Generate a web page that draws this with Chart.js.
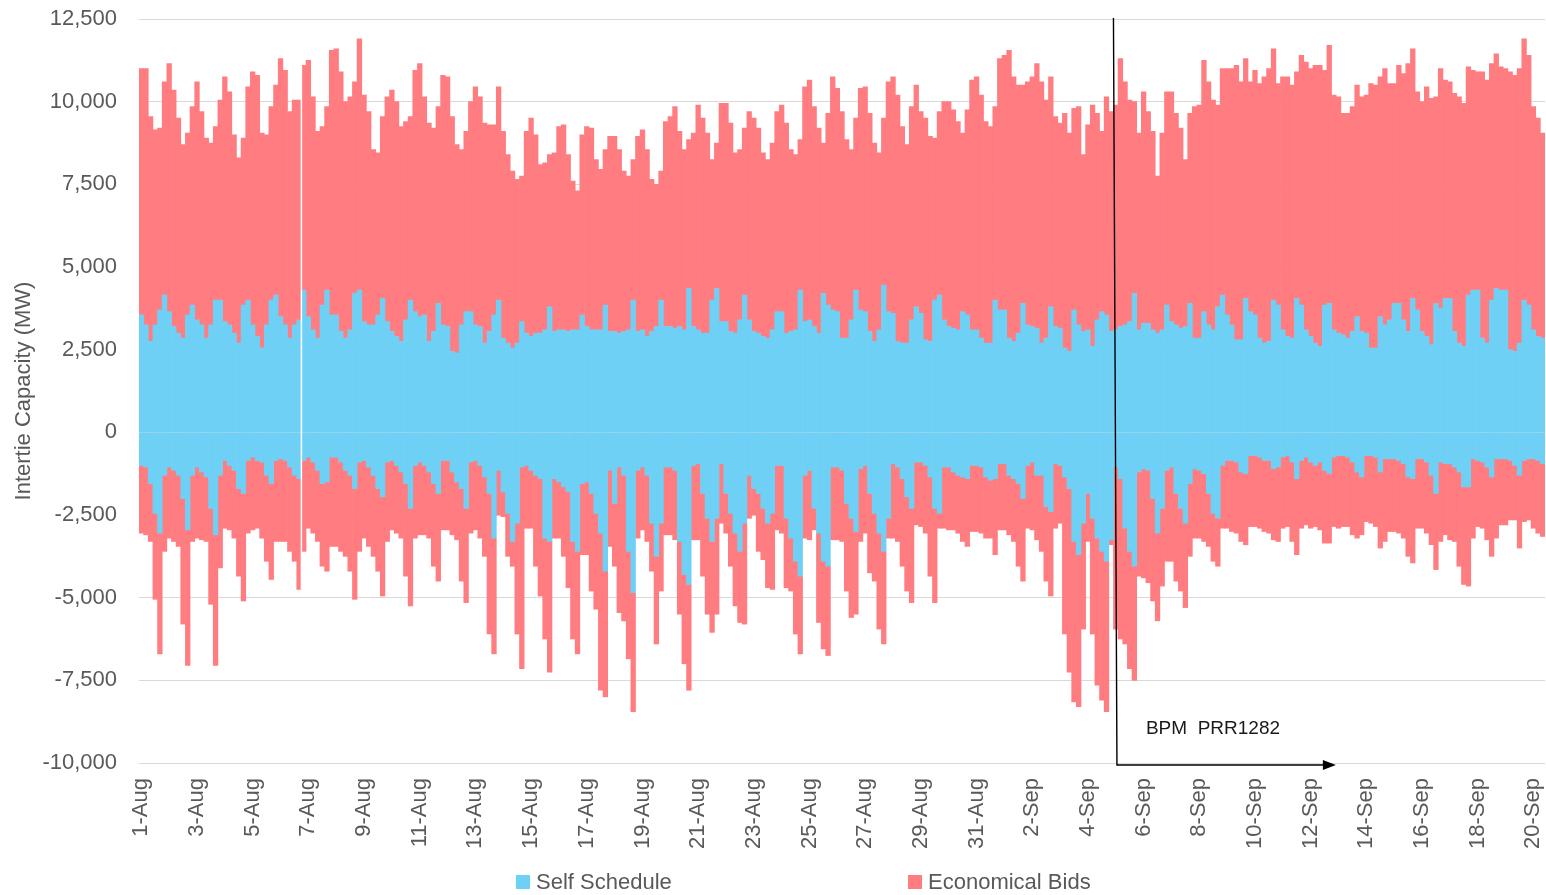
<!DOCTYPE html>
<html>
<head>
<meta charset="utf-8">
<title>Intertie Capacity</title>
<script src="https://cdn.jsdelivr.net/npm/chart.js@4.4.1/dist/chart.umd.min.js"></script>
<style>
  html, body { margin: 0; padding: 0; background: #ffffff; }
  #wrap { position: relative; width: 1546px; height: 895px; overflow: hidden; }
  #chart { position: absolute; left: 0; top: 0; }
  .legend-item {
    position: absolute; top: 869px; height: 26px; line-height: 26px;
    display: flex; align-items: center; white-space: nowrap;
    font-family: "Liberation Sans", Arial, sans-serif; font-size: 22px; color: #595959;
  }
  .legend-item i { display: inline-block; width: 14px; height: 14px; margin-right: 6px; }
</style>
</head>
<body>
<div id="wrap">
  <canvas id="chart" width="1546" height="895"></canvas>
</div>
<script>
// Day tick labels (one label every second day is shown on the axis)
const dayLabels = [
  '1-Aug','2-Aug','3-Aug','4-Aug','5-Aug','6-Aug','7-Aug','8-Aug','9-Aug','10-Aug',
  '11-Aug','12-Aug','13-Aug','14-Aug','15-Aug','16-Aug','17-Aug','18-Aug','19-Aug','20-Aug',
  '21-Aug','22-Aug','23-Aug','24-Aug','25-Aug','26-Aug','27-Aug','28-Aug','29-Aug','30-Aug',
  '31-Aug','1-Sep','2-Sep','3-Sep','4-Sep','5-Sep','6-Sep','7-Sep','8-Sep','9-Sep',
  '10-Sep','11-Sep','12-Sep','13-Sep','14-Sep','15-Sep','16-Sep','17-Sep','18-Sep','19-Sep','20-Sep'
];

// 4-hour blocks per day
const blockHours = ['00:00', '04:00', '08:00', '12:00', '16:00', '20:00'];

// Import side: self-scheduled MW (top of blue)
const importSelfSchedule = [
  3550, 3250, 2750, 3250, 3700, 4150,
  3650, 3200, 3000, 2850, 3550, 3850,
  3400, 3250, 2850, 3250, 4000, 4000,
  3350, 3250, 3000, 2700, 3850, 4000,
  3250, 2900, 2550, 3250, 4000, 4150,
  3500, 3250, 2850, 3250, 3400, 4300,
  3500, 3100, 2850, 3850, 4300, 3550,
  3550, 3050, 2850, 3100, 4200, 4300,
  3350, 3250, 3250, 3550, 4050, 3350,
  3050, 2900, 2750, 3400, 4000, 3650,
  3500, 3550, 2750, 3050, 3900, 3250,
  3200, 2450, 2400, 3250, 3650, 3650,
  3250, 3200, 2700, 3050, 3550, 4000,
  2850, 2700, 2550, 2700, 3350, 3000,
  2900, 3000, 3000, 3100, 3800, 3050,
  3100, 3100, 3050, 3100, 3100, 3550,
  3200, 3100, 3100, 3100, 3850, 3050,
  3050, 3000, 3050, 3100, 4000, 3050,
  3100, 2900, 3050, 3200, 4000, 3200,
  3200, 3150, 3200, 3100, 4350, 3200,
  3100, 3000, 3000, 4000, 4350, 3350,
  3350, 3050, 3000, 3400, 4150, 3400,
  3050, 3000, 2900, 2850, 3100, 3650,
  3650, 3000, 3050, 3100, 4300, 3350,
  3400, 3200, 3000, 4200, 3850, 3700,
  3650, 2850, 2850, 3400, 4300, 3700,
  3650, 3050, 2750, 3100, 4450, 3650,
  3600, 2750, 2700, 2700, 3400, 3800,
  3600, 2800, 2750, 4000, 4150, 3400,
  3200, 3150, 3100, 3650, 3550, 3100,
  3100, 2850, 2700, 2700, 4000, 3700,
  3700, 2850, 2750, 3000, 3900, 3250,
  3200, 3150, 2700, 2850, 3800, 3200,
  3150, 2550, 2450, 3700, 3250, 3050,
  3100, 2600, 3400, 3650, 3550, 3050,
  3100, 3200, 3250, 3350, 4200, 3100,
  3300, 3300, 3100, 3000, 3100, 3850,
  3350, 3250, 3150, 3200, 3900, 2850,
  2850, 3650, 3250, 3100, 3800, 4150,
  3550, 3250, 2800, 2800, 4050, 3650,
  3550, 2850, 2700, 2750, 4000, 3850,
  3100, 2900, 2850, 4050, 3850, 3100,
  2900, 2700, 2600, 3850, 3900, 3100,
  3000, 2950, 2850, 3050, 3500, 3050,
  3000, 2550, 2550, 3500, 3250, 3400,
  3900, 3900, 3400, 3050, 4050, 3700,
  3050, 2900, 2650, 3900, 3750, 4050,
  4050, 3050, 2700, 2600, 4150, 4300,
  4300, 2850, 2700, 4000, 4350, 4300,
  4300, 2500, 2450, 2700, 4000, 3850,
  3100, 2900, 2850
];

// Import side: self schedule plus economical bids, MW (top of red)
const importTotal = [
  11000, 11000, 9550, 9150, 9200, 10600,
  11150, 10350, 9500, 8700, 9050, 9850,
  10600, 9700, 8900, 8750, 9250, 10050,
  10750, 10300, 9000, 8300, 8900, 10450,
  10900, 10800, 9050, 9000, 9850, 10500,
  11300, 10950, 9700, 10050, 10050, 11100,
  11250, 10150, 9100, 9250, 9850, 11550,
  11600, 10900, 10000, 10150, 10600, 11900,
  10200, 9700, 8550, 8450, 9550, 10150,
  10350, 10000, 9250, 9400, 9550, 10950,
  11150, 10150, 9350, 9200, 9850, 10800,
  10750, 9550, 8700, 8550, 9100, 10000,
  10450, 10150, 9350, 9300, 9300, 10450,
  9100, 8400, 7900, 7650, 7750, 9100,
  9500, 9000, 8100, 8150, 8400, 8450,
  9250, 9300, 8400, 7600, 7300, 9000,
  9250, 9200, 8250, 7950, 8550, 8950,
  8950, 8550, 7900, 7750, 8250, 8950,
  9150, 8550, 7650, 7500, 7900, 9400,
  9550, 9850, 9100, 8550, 8850, 9050,
  9900, 9500, 9050, 8250, 8750, 9950,
  9950, 9350, 8450, 8550, 9200, 9700,
  9500, 9200, 8450, 8250, 8750, 9700,
  9900, 9350, 8550, 8400, 8850, 10450,
  10650, 9850, 9200, 8750, 9650, 10750,
  10400, 9700, 8850, 8550, 9500, 10400,
  10450, 9650, 8750, 8450, 9500, 10600,
  10750, 10200, 9250, 8700, 9850, 10500,
  9700, 9500, 8950, 8900, 9700, 10000,
  10000, 9750, 9400, 9050, 9750, 10650,
  10750, 10200, 9400, 9250, 9850, 11300,
  11400, 11550, 10750, 10500, 10500, 10600,
  10750, 11150, 10600, 10050, 10750, 9550,
  9350, 9650, 9050, 9800, 9850, 8400,
  9300, 9900, 9650, 9100, 10150, 9700,
  9900, 11300, 10600, 10050, 10000, 9050,
  10300, 9700, 9100, 7750, 9050, 10300,
  10300, 9650, 9200, 8250, 9650, 9850,
  9900, 11250, 10600, 10050, 9900, 11000,
  11000, 11000, 11100, 10600, 11300, 10600,
  10950, 10550, 10750, 11000, 11600, 10550,
  10750, 10750, 10500, 10900, 11400, 11200,
  11000, 11100, 11100, 10950, 11700, 10200,
  10150, 9650, 9650, 9850, 10500, 10150,
  10200, 10550, 10500, 10750, 11000, 10550,
  10550, 11100, 10850, 11150, 11600, 10300,
  10000, 10450, 10100, 10150, 11000, 10650,
  10600, 10250, 10150, 9950, 11050, 10950,
  10900, 10900, 10650, 11150, 11450, 11050,
  11000, 10900, 10800, 11000, 11900, 11400,
  9850, 9500, 9050
];

// Export side: self-scheduled MW (bottom of blue)
const exportSelfSchedule = [
  -1000, -1050, -1550, -2450, -3050, -1300,
  -1050, -1150, -1300, -2000, -2950, -1300,
  -1050, -1200, -1350, -2300, -3100, -1300,
  -850, -1000, -1150, -1700, -1850, -850,
  -750, -850, -900, -1300, -1550, -850,
  -800, -850, -1050, -1300, -1400, -850,
  -750, -900, -1150, -1550, -1500, -750,
  -750, -900, -1150, -1300, -1700, -900,
  -850, -1050, -1300, -1700, -1950, -900,
  -850, -1000, -1200, -1550, -2300, -1000,
  -900, -1000, -1200, -1550, -1850, -850,
  -850, -1200, -1500, -1700, -2300, -900,
  -850, -1000, -1350, -1850, -3200, -1150,
  -1800, -2450, -3300, -2750, -1050, -1000,
  -1150, -1300, -1400, -3200, -3300, -1400,
  -1500, -1650, -1800, -3300, -3600, -1550,
  -1500, -1850, -2450, -3050, -4200, -1150,
  -2150, -1050, -1300, -3600, -4850, -1150,
  -1050, -1300, -2750, -3750, -2750, -1050,
  -1050, -1150, -3300, -4300, -4600, -1000,
  -950, -1850, -2600, -3300, -2600, -950,
  -1850, -2450, -3050, -3600, -2750, -1300,
  -1700, -1850, -2300, -2750, -2450, -1000,
  -1000, -2600, -3200, -3900, -4350, -1300,
  -1150, -2300, -3050, -3900, -4050, -1050,
  -1050, -1150, -2150, -2600, -3000, -1100,
  -1000, -1850, -2450, -3050, -3600, -2600,
  -950, -1050, -1400, -1950, -2300, -900,
  -900, -1000, -1350, -2300, -2450, -1050,
  -1050, -1200, -1300, -1350, -1400, -1000,
  -1000, -1050, -1350, -1450, -1400, -950,
  -950, -1300, -1400, -1550, -2000, -1000,
  -900, -1300, -1300, -2250, -2400, -950,
  -1000, -1350, -1700, -3300, -3700, -2750,
  -1850, -2600, -3200, -3600, -3900, -3250,
  -1050, -1400, -2900, -3600, -4050, -1200,
  -1100, -1150, -2000, -3050, -2300, -1150,
  -1050, -1850, -2300, -2750, -1550, -1100,
  -1150, -1250, -1850, -2450, -2600, -1000,
  -850, -850, -900, -1200, -1250, -700,
  -700, -750, -850, -850, -1100, -1050,
  -750, -700, -900, -1400, -850, -750,
  -900, -1000, -900, -1150, -1250, -750,
  -700, -700, -750, -900, -1200, -1350,
  -700, -700, -750, -1200, -800, -800,
  -800, -850, -950, -1350, -1400, -800,
  -800, -900, -1300, -1850, -900, -950,
  -950, -1050, -1200, -1650, -1650, -800,
  -850, -900, -1050, -1350, -800, -800,
  -800, -850, -1000, -1300, -850, -800,
  -800, -850, -950
];

// Export side: self schedule plus economical bids, MW (bottom of red)
const exportTotal = [
  -3050, -3100, -3300, -5050, -6700, -3600,
  -3200, -3300, -3450, -5800, -7050, -3300,
  -3200, -3250, -3300, -5200, -7050, -4100,
  -2900, -2950, -3200, -4350, -5100, -3050,
  -2950, -2900, -3200, -3900, -4450, -3300,
  -3300, -3300, -3600, -3900, -4750, -3600,
  -2900, -3050, -3300, -4050, -4200, -3450,
  -3450, -3600, -3750, -4200, -5050, -3600,
  -3200, -3450, -3750, -4200, -4950, -3300,
  -2950, -3050, -3200, -4350, -5250, -3200,
  -3100, -3100, -3200, -4050, -4500, -2950,
  -2950, -3100, -3250, -4500, -5150, -3050,
  -2950, -3200, -3750, -6100, -6700, -2500,
  -2550, -3750, -4050, -6100, -7150, -2900,
  -2900, -4050, -4950, -6250, -7250, -3200,
  -3200, -3750, -4700, -6250, -6700, -3700,
  -3700, -4800, -5350, -7800, -8000, -3450,
  -4050, -5450, -5700, -6850, -8450, -3200,
  -2950, -3300, -4200, -6400, -4800, -3100,
  -3100, -3250, -5500, -7000, -7800, -3250,
  -3250, -4350, -5500, -6050, -5500, -2750,
  -3050, -4050, -5250, -5750, -5800, -2600,
  -2500, -3600, -3850, -4700, -4750, -2950,
  -3050, -4700, -4800, -6100, -6700, -3200,
  -3250, -2950, -5750, -6550, -6750, -3250,
  -3250, -3300, -4800, -5600, -5500, -3300,
  -3050, -4250, -4500, -5950, -6400, -3200,
  -3200, -3300, -4050, -4800, -5150, -2800,
  -2850, -3050, -4350, -5150, -2900, -2900,
  -2950, -2950, -3050, -3300, -3450, -3000,
  -3000, -3050, -3200, -3200, -3700, -2950,
  -2950, -3100, -3300, -4050, -4500, -2900,
  -2950, -3250, -3600, -4500, -4950, -2900,
  -2750, -6100, -7250, -8150, -8300, -5950,
  -3300, -6100, -7650, -8100, -8450, -3400,
  -5950, -6250, -6400, -7150, -7500, -4350,
  -4400, -4550, -5100, -5700, -4650, -3900,
  -3900, -4500, -4800, -5300, -3750, -3200,
  -3200, -3300, -3450, -3900, -4050, -2900,
  -2900, -3000, -3050, -3300, -3400, -2850,
  -2850, -2900, -3000, -3050, -3250, -3300,
  -2900, -2850, -3300, -3700, -2900, -2800,
  -2900, -2850, -2950, -3350, -3350, -2850,
  -2900, -2850, -2850, -3100, -3200, -3100,
  -2700, -2750, -2850, -3500, -3300, -3000,
  -3000, -3050, -3200, -3750, -3950, -2900,
  -2900, -3050, -3400, -4150, -3300, -3100,
  -3250, -3300, -4050, -4600, -4650, -3200,
  -2850, -2900, -3250, -3750, -3200, -2800,
  -2800, -2650, -2650, -3500, -2700, -2650,
  -2900, -3050, -3150
];

// Blocks followed by a missing hour of data (drawn as a thin blank gap)
const missingAfterBlock = [34];

// One category per 4-hour block
const blocksPerDay = blockHours.length;
const categories = importTotal.map((_, i) =>
  dayLabels[Math.floor(i / blocksPerDay)] + ' ' + blockHours[i % blocksPerDay]);

// Policy change marker drawn across the plot
const policyMarker = {
  startBlock: 210,   // 5-Sep 00:00
  endBlock: 257,
  textBlock: 217,
  textValue: -8950,
  text: 'BPM  PRR1282'
};

const FONT = '"Liberation Sans", Arial, sans-serif';
const TEXT_GREY = '#595959';
const BLUE = '#6FD0F6';
const RED = '#FF7C80';

const barStyle = {
  barPercentage: 1,
  categoryPercentage: 1,
  grouped: false,
  borderWidth: 0
};

// Thin blank column where an hour of data is missing
const gapPlugin = {
  id: 'dataGaps',
  afterDatasetsDraw(chart) {
    const { ctx, scales: { x, y } } = chart;
    const half = (x.getPixelForValue(1) - x.getPixelForValue(0)) / 2;
    ctx.save();
    ctx.strokeStyle = '#ffffff';
    ctx.lineWidth = 1.5;
    missingAfterBlock.forEach((b) => {
      const px = x.getPixelForValue(b) + half;
      const top = y.getPixelForValue(Math.max(importTotal[b], importTotal[b + 1]));
      const bottom = y.getPixelForValue(Math.min(exportTotal[b], exportTotal[b + 1]));
      ctx.beginPath();
      ctx.moveTo(px, top);
      ctx.lineTo(px, bottom);
      ctx.stroke();
    });
    ctx.restore();
  }
};

const markerPlugin = {
  id: 'policyMarker',
  afterDraw(chart) {
    const { ctx, chartArea, scales: { x, y } } = chart;
    const half = (x.getPixelForValue(1) - x.getPixelForValue(0)) / 2;
    const xTop = x.getPixelForValue(policyMarker.startBlock) - half;
    const xBottom = xTop + 3.5;
    const yBase = y.getPixelForValue(-10000) + 2;
    const xEnd = x.getPixelForValue(policyMarker.endBlock);
    ctx.save();
    ctx.strokeStyle = '#000000';
    ctx.lineWidth = 1.4;
    ctx.beginPath();
    ctx.moveTo(xTop, chartArea.top - 1);
    ctx.lineTo(xBottom, yBase);
    ctx.lineTo(xEnd - 8, yBase);
    ctx.stroke();
    ctx.fillStyle = '#000000';
    ctx.beginPath();
    ctx.moveTo(xEnd + 2, yBase);
    ctx.lineTo(xEnd - 11, yBase - 5);
    ctx.lineTo(xEnd - 11, yBase + 5);
    ctx.closePath();
    ctx.fill();
    ctx.font = '19px ' + FONT;
    ctx.fillStyle = '#1a1a1a';
    ctx.textAlign = 'left';
    ctx.textBaseline = 'middle';
    ctx.fillText(policyMarker.text,
      x.getPixelForValue(policyMarker.textBlock) - half,
      y.getPixelForValue(policyMarker.textValue));
    ctx.restore();
  }
};

Chart.defaults.font.family = FONT;

const chart = new Chart(document.getElementById('chart'), {
  type: 'bar',
  data: {
    labels: categories,
    datasets: [
      Object.assign({ label: 'Self Schedule', data: importSelfSchedule, backgroundColor: BLUE }, barStyle),
      Object.assign({ label: 'Economical Bids',
        data: importSelfSchedule.map((v, i) => [v, importTotal[i]]), backgroundColor: RED }, barStyle),
      Object.assign({ label: 'Self Schedule', data: exportSelfSchedule, backgroundColor: BLUE }, barStyle),
      Object.assign({ label: 'Economical Bids',
        data: exportSelfSchedule.map((v, i) => [v, exportTotal[i]]), backgroundColor: RED }, barStyle)
    ]
  },
  options: {
    responsive: false,
    devicePixelRatio: 1,
    animation: false,
    layout: { padding: { top: 19, right: 1, bottom: 0, left: 0 } },
    plugins: {
      legend: { display: false },
      tooltip: { enabled: false }
    },
    scales: {
      x: {
        offset: true,
        grid: { display: false, drawTicks: true, tickLength: 15, tickColor: 'rgba(0,0,0,0)' },
        border: { display: false },
        ticks: {
          autoSkip: false,
          minRotation: 90,
          maxRotation: 90,
          padding: 0,
          color: TEXT_GREY,
          font: { size: 22 },
          callback: (value, index) => index % (2 * blocksPerDay) === 0 ? dayLabels[index / blocksPerDay] : null
        },
        afterFit: (scale) => {
          scale.height = 132;
          scale.paddingLeft = 0;
          scale.paddingRight = 0;
        }
      },
      y: {
        min: -10000,
        max: 12500,
        z: 1,
        grid: {
          drawTicks: true,
          tickLength: 22,
          tickColor: 'rgba(0,0,0,0)',
          lineWidth: 1,
          color: (c) => (c.tick && c.tick.value === 0) ? '#D9D9D9' : 'rgba(0,0,0,0.15)'
        },
        border: { display: false },
        ticks: {
          stepSize: 2500,
          padding: 0,
          color: TEXT_GREY,
          font: { size: 22 },
          callback: (v) => Number(v).toLocaleString('en-US')
        },
        title: {
          display: true,
          text: 'Intertie Capacity (MW)',
          color: TEXT_GREY,
          font: { size: 22 },
          padding: { top: 11, bottom: 0 }
        },
        afterFit: (scale) => { scale.width = 139; }
      }
    }
  },
  plugins: [gapPlugin, markerPlugin]
});

// Legend below the axis, one entry per series
const legendLeft = [516, 908];
chart.data.datasets.slice(0, 2).forEach((ds, i) => {
  const item = document.createElement('div');
  item.className = 'legend-item';
  item.style.left = legendLeft[i] + 'px';
  const swatch = document.createElement('i');
  swatch.style.background = ds.backgroundColor;
  item.appendChild(swatch);
  item.appendChild(document.createTextNode(ds.label));
  document.getElementById('wrap').appendChild(item);
});
</script>
</body>
</html>
